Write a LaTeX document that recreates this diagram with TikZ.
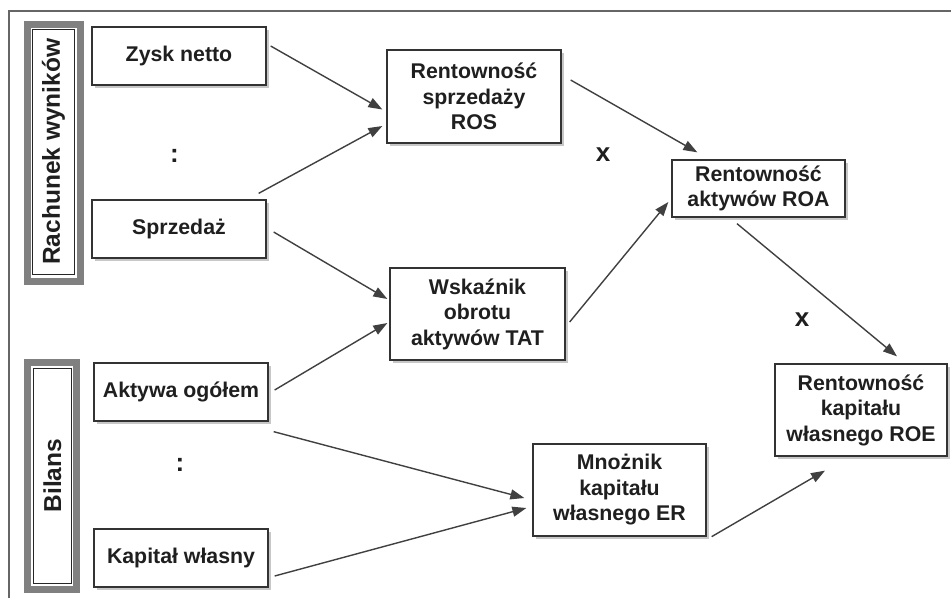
\documentclass[tikz,border=0pt]{standalone}
\usepackage{fontspec}
\setmainfont{Liberation Sans}
\usetikzlibrary{arrows.meta,shadows}
\begin{document}
\begin{tikzpicture}[x=1pt,y=-1pt,
  every node/.style={font=\fontsize{21.3}{25.5}\selectfont\bfseries, text=black!88},
  box/.style={draw=black!80, line width=1.3pt, fill=white, align=center, inner sep=0pt,
    drop shadow={shadow xshift=2.5pt, shadow yshift=-2.5pt, fill=black!22, opacity=1}},
  sidebox/.style={draw=black!85, line width=1pt, rotate=90, inner sep=0pt,
    font=\fontsize{24.5}{29}\selectfont\bfseries},
  sideframe/.style={draw=black!50, line width=7pt, inner sep=0pt},
  opsign/.style={font=\fontsize{26}{30}\selectfont\bfseries},
  arr/.style={draw=black!75, line width=1.4pt, -{Triangle[length=14pt,width=10pt]}}
]
\useasboundingbox (0,0) rectangle (951,598);
% outer frame
\draw[black!60, line width=1.5pt] (9,598) -- (9,11) -- (951,11);

% side labels
\node[sideframe, minimum width=52.8pt, minimum height=256.5pt] (rwframe) at (53.9,152.75) {};
\node[sidebox, minimum width=244.5pt, minimum height=42pt] (rw) at (53.5,151.75) {Rachunek wyników};
\node[sideframe, minimum width=48.8pt, minimum height=226.3pt] (bilframe) at (51.9,475.85) {};
\node[sidebox, minimum width=214.7pt, minimum height=38.7pt] (bil) at (52.35,475.65) {Bilans};

% input boxes
\node[box, minimum width=174pt, minimum height=58pt] (zysk) at (179,56) {Zysk netto};
\node[box, minimum width=174pt, minimum height=58pt] (sprz) at (179,229) {Sprzedaż};
\node[box, minimum width=174pt, minimum height=58pt] (akt) at (181,392) {Aktywa ogółem};
\node[box, minimum width=174pt, minimum height=58pt] (kap) at (181,558) {Kapitał własny};

% ratios
\node[box, minimum width=174pt, minimum height=93pt] (ros) at (474,96.5) {Rentowność\\sprzedaży\\ROS};
\node[box, minimum width=175pt, minimum height=92pt] (tat) at (477.5,314) {Wskaźnik\\obrotu\\aktywów TAT};
\node[box, minimum width=173pt, minimum height=57pt] (roa) at (758.5,188.5) {Rentowność\\aktywów ROA};
\node[box, minimum width=173pt, minimum height=92pt] (er) at (619.5,490) {Mnożnik\\kapitału\\własnego ER};
\node[box, minimum width=172pt, minimum height=92pt] (roe) at (861,410) {Rentowność\\kapitału\\własnego ROE};

% operators
\node[opsign] (div1) at (174.5,156) {:};
\node[opsign] (div2) at (180,465) {:};
\node[opsign] (mul1) at (603,155) {x};
\node[opsign] (mul2) at (802,320) {x};

% connectors
\draw[arr] ([xshift=4pt,yshift=10pt]zysk.east) -- ([xshift=-4pt,yshift=-13pt]ros.west);
\draw[arr] ([xshift=-8pt,yshift=6pt]sprz.north east) -- ([xshift=-4pt,yshift=-29.5pt]ros.west);
\draw[arr] ([xshift=7pt,yshift=-3pt]sprz.east) -- ([xshift=-2pt,yshift=15pt]tat.west);
\draw[arr] ([xshift=6pt,yshift=2pt]akt.east) -- ([xshift=-2pt,yshift=-9pt]tat.west);
\draw[arr] ([xshift=5pt,yshift=-10pt]akt.south east) -- ([xshift=-8pt,yshift=-8pt]er.west);
\draw[arr] ([xshift=6pt,yshift=-18pt]kap.east) -- ([xshift=-6pt,yshift=-18pt]er.west);
\draw[arr] ([xshift=9pt,yshift=16.5pt]ros.east) -- ([xshift=26pt,yshift=7pt]roa.north west);
\draw[arr] ([xshift=4pt,yshift=-8pt]tat.east) -- ([xshift=-3pt,yshift=-13.5pt]roa.west);
\draw[arr] ([xshift=-21.5pt,yshift=-6pt]roa.south) -- ([xshift=36pt,yshift=7pt]roe.north);
\draw[arr] ([xshift=5pt]er.south east) -- ([xshift=-36pt,yshift=-14pt]roe.south);
\end{tikzpicture}
\end{document}
